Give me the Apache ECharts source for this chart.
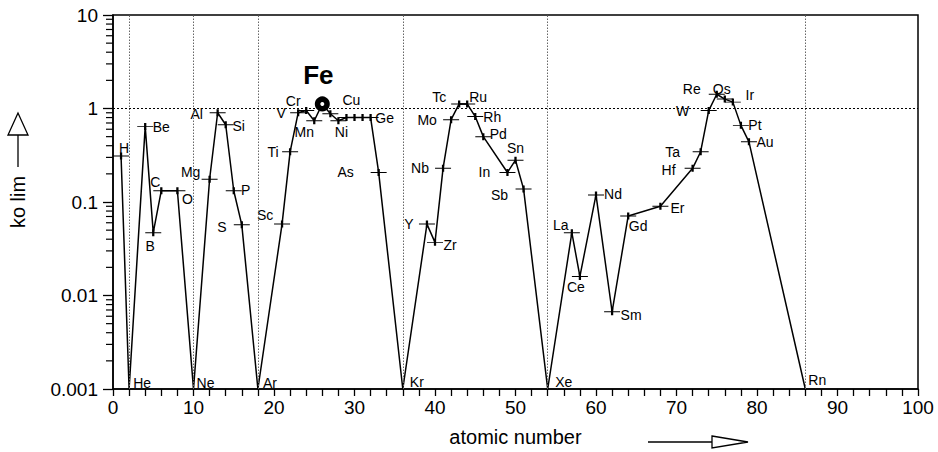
<!DOCTYPE html>
<html><head><meta charset="utf-8">
<script src="https://cdn.jsdelivr.net/npm/echarts@6/dist/echarts.min.js"></script>
<style>html,body{margin:0;padding:0;background:#fff}#c{width:938px;height:452px}</style>
</head><body><div id="c"></div>
<script>
// ---- data ----
const elements = ['H','He','Be','B','C','O','Ne','Mg','Al','Si','P','S','Ar','Sc','Ti','V','Cr','Mn','Fe','Co','Ni','Cu','Zn','Ga','Ge','As','Kr','Y','Zr','Nb','Mo','Tc','Ru','Rh','Pd','In','Sn','Sb','Xe','La','Ce','Nd','Sm','Gd','Er','Hf','Ta','W','Re','Os','Ir','Pt','Au','Rn'];
const atomicNumber = [1,2,4,5,6,8,10,12,13,14,15,16,18,21,22,23,24,25,26,27,28,29,30,31,32,33,36,39,40,41,42,43,44,45,46,49,50,51,54,57,58,60,62,64,68,72,73,74,75,76,77,78,79,86];
const koLim = [0.31,0.001,0.64,0.047,0.132,0.132,0.001,0.175,0.90,0.67,0.132,0.057,0.001,0.058,0.344,0.90,0.95,0.74,1.12,0.88,0.74,0.80,0.80,0.80,0.80,0.207,0.001,0.058,0.037,0.229,0.76,1.12,1.12,0.82,0.50,0.207,0.28,0.138,0.001,0.047,0.016,0.119,0.0067,0.071,0.090,0.229,0.345,0.95,1.42,1.26,1.17,0.66,0.44,0.001];
const unlabeled = ['Co','Zn','Ga'];
const xTickLabels = ['0','10','20','30','40','50','60','70','80','90','100'];
const yTickLabels = ['0.001','0.01','0.1','1','10'];
const nobleGasZ = [2,10,18,36,54,86];
const referenceLevel = 1;
const yDecadeStarts = [0.001,0.01,0.1,1];
const yMinorMultipliers = [2,3,4,5,6,7,8,9];

// ---- label placement (style, px offsets of label centre from point) ----
const labelOffset = {
  H:[3,-8], He:[13,-6], Be:[16,0], B:[-3,13], C:[-6,-9], O:[10,8], Ne:[12,-6],
  Mg:[-19,-7], Al:[-21,1], Si:[13,1], P:[12,-1], S:[-20,2], Ar:[12,-6],
  Sc:[-17,-9], Ti:[-17,0], V:[-17,0], Cr:[-13,-10], Mn:[-10,11], Fe:[-4,-29],
  Ni:[3,11], Cu:[5,-18], Ge:[14,0], As:[-33,0], Kr:[14,-7],
  Y:[-18,0], Zr:[15,3], Nb:[-23,0], Mo:[-24,0], Tc:[-20,-7], Ru:[11,-7],
  Rh:[17,0], Pd:[15,-3], In:[-23,0], Sn:[0,-12], Sb:[-24,6], Xe:[16,-7],
  La:[-11,-8], Ce:[-4,11], Nd:[17,-1], Sm:[19,3], Gd:[10,10], Er:[17,2],
  Hf:[-24,2], Ta:[-28,0], W:[-26,0], Re:[-25,-5], Os:[-3,-10], Ir:[17,-7],
  Pt:[14,0], Au:[16,0], Rn:[12,-9]
};

const FONT = '"Liberation Sans", Arial, Helvetica, sans-serif';
const plusPath = 'path://M0,4 L16,4 M8,1 L8,7';

const baseLabel = { position: 'inside', color: '#000', textBorderWidth: 0, textBorderColor: 'transparent',
  fontSize: 14, fontFamily: FONT, align: 'center', verticalAlign: 'middle' };

const seriesData = elements.map((el, i) => {
  const item = { name: el, value: [atomicNumber[i], koLim[i]] };
  const off = labelOffset[el] || [0,0];
  const lab = Object.assign({}, baseLabel, { show: unlabeled.indexOf(el) < 0, offset: off });
  if (el === 'Fe') {
    item.symbol = 'circle'; item.symbolSize = 9.5;
    item.itemStyle = { color: '#fff', borderColor: '#000', borderWidth: 5.5 };
    lab.fontSize = 26; lab.fontWeight = 'bold';
  } else if (nobleGasZ.indexOf(atomicNumber[i]) >= 0) {
    item.symbol = 'circle'; item.symbolSize = 0.5;
  }
  item.label = lab;
  return item;
});

const minorTickData = [];
yDecadeStarts.forEach(d => yMinorMultipliers.forEach(m => minorTickData.push([0, +(d*m).toPrecision(3)])));

const chart = echarts.init(document.getElementById('c'), null, { renderer: 'svg', width: 938, height: 452 });
chart.setOption({
  backgroundColor: '#fff',
  animation: false,
  textStyle: { fontFamily: FONT },
  grid: { left: 112, right: 20, top: 15, bottom: 59, show: true, borderColor: '#000', borderWidth: 1.5, backgroundColor: 'transparent' },
  xAxis: {
    type: 'value', min: 0, max: 100, interval: 10,
    name: 'atomic number', nameLocation: 'middle', nameGap: 38,
    nameTextStyle: { fontSize: 20, color: '#000', fontFamily: FONT },
    axisLine: { lineStyle: { color: '#000', width: 1.5 } },
    axisTick: { show: true, inside: false, length: 7, lineStyle: { color: '#000', width: 1.3 } },
    minorTick: { show: true, splitNumber: 5, length: 7, lineStyle: { color: '#000', width: 1.3 } },
    axisLabel: { fontSize: 19, color: '#000', margin: 9, fontFamily: FONT,
      formatter: v => xTickLabels[Math.round(v/10)] },
    splitLine: { show: false }
  },
  yAxis: {
    type: 'log', logBase: 10, min: 0.001, max: 10,
    name: 'ko lim', nameLocation: 'middle', nameGap: 85, nameRotate: 90,
    nameTextStyle: { fontSize: 20, color: '#000', fontFamily: FONT },
    axisLine: { lineStyle: { color: '#000', width: 1.5 } },
    axisTick: { show: true, inside: false, length: 10, lineStyle: { color: '#000', width: 1.3 } },
    minorTick: { show: false },
    axisLabel: { fontSize: 19, color: '#000', margin: 15, fontFamily: FONT,
      formatter: v => yTickLabels[Math.round(Math.log10(v)) + 3] },
    splitLine: { show: false }
  },
  series: [
    {
      type: 'line', data: seriesData, clip: false,
      symbol: plusPath, symbolSize: [16, 7],
      itemStyle: { color: '#000', borderColor: '#000', borderWidth: 1.5 },
      lineStyle: { color: '#000', width: 1.5 },
      label: Object.assign({ show: true, formatter: p => p.name }, baseLabel),
      markLine: {
        silent: true, symbol: 'none', label: { show: false },
        data: nobleGasZ.map(z => ({ xAxis: z, lineStyle: { type: [1.5, 1.5], color: '#666', width: 1 } }))
          .concat([{ yAxis: referenceLevel, lineStyle: { type: [2, 2], color: '#000', width: 1.2 } }])
      },
      z: 3
    },
    {
      type: 'custom', data: minorTickData, clip: false, silent: true,
      renderItem: (params, api) => {
        const p = api.coord([0, api.value(1)]);
        return { type: 'line', shape: { x1: p[0] - 7, y1: p[1], x2: p[0], y2: p[1] },
          style: { stroke: '#000', lineWidth: 1.2 } };
      }
    }
  ],
  graphic: [
    { type: 'polyline', shape: { points: [[18, 135], [18, 167]] }, style: { stroke: '#000', lineWidth: 1.3, fill: null } },
    { type: 'polygon', shape: { points: [[18, 113], [8, 135], [28, 135]] }, style: { stroke: '#000', lineWidth: 1.3, fill: '#fff' } },
    { type: 'polyline', shape: { points: [[648, 442], [712, 442]] }, style: { stroke: '#000', lineWidth: 1.3, fill: null } },
    { type: 'polygon', shape: { points: [[712, 436], [748, 442], [712, 448]] }, style: { stroke: '#000', lineWidth: 1.3, fill: '#fff' } }
  ]
});
</script></body></html>
